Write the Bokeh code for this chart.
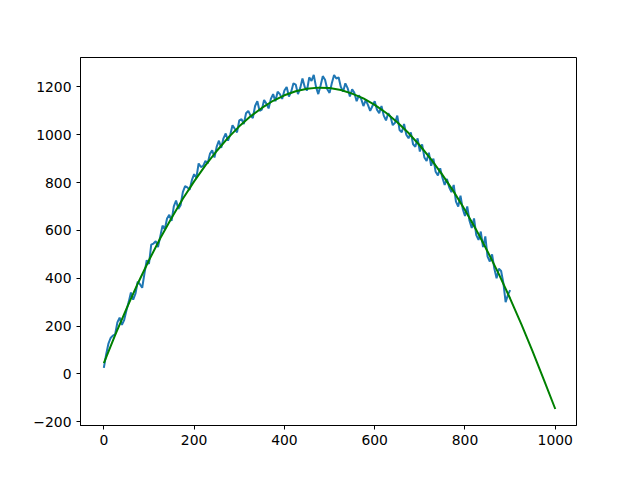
from bokeh.plotting import figure
from bokeh.models import Range1d, FixedTicker, CustomJSTickFormatter
from bokeh.embed import file_html
from bokeh.resources import INLINE

# Noisy measured series (x step 5, 0..900)
noisy_x = list(range(0, 905, 5))
noisy_y = [
    25, 80, 125, 150, 160, 165, 215, 235, 205, 225,
    265, 300, 340, 310, 335, 385, 375, 360, 420, 475,
    460, 540, 545, 555, 530, 575, 620, 605, 650, 665,
    640, 700, 725, 690, 705, 760, 785, 780, 770, 810,
    835, 820, 880, 865, 870, 890, 880, 920, 935, 905,
    950, 975, 945, 985, 1005, 975, 1000, 1040, 1025, 1010,
    1060, 1065, 1045, 1090, 1100, 1080, 1070, 1120, 1140, 1100,
    1105, 1145, 1130, 1110, 1150, 1170, 1140, 1180, 1170, 1150,
    1185, 1200, 1160, 1180, 1215, 1210, 1170, 1195, 1235, 1200,
    1185, 1240, 1225, 1250, 1200, 1170, 1205, 1245, 1230, 1190,
    1175, 1215, 1250, 1235, 1240, 1200, 1180, 1215, 1195, 1160,
    1190, 1175, 1140, 1165, 1150, 1120, 1145, 1125, 1100, 1120,
    1140, 1105, 1090, 1120, 1080, 1060, 1090, 1075, 1040, 1050,
    1080, 1020, 1010, 1045, 1000, 985, 1010, 960, 950, 985,
    930, 960, 905, 890, 925, 870, 900, 845, 830, 860,
    820, 790, 815, 780, 760, 790, 720, 700, 745, 690,
    660, 700, 640, 610, 650, 580, 560, 595, 530, 575,
    490, 470, 500, 440, 400, 440, 430, 380, 300, 330,
    350,
]

# Smooth fitted curve (x step 25, 0..1000)
fit_x = list(range(0, 1025, 25))
fit_y = [
    45, 162, 272, 377, 475, 567, 652, 732, 805, 872,
    932, 987, 1035, 1077, 1112, 1142, 1165, 1182, 1192, 1197,
    1195, 1187, 1172, 1152, 1125, 1092, 1052, 1007, 955, 897,
    832, 762, 685, 602, 512, 417, 315, 207, 93, -26,
    -147,
]

x_ticks = [0, 200, 400, 600, 800, 1000]
y_ticks = [-200, 0, 200, 400, 600, 800, 1000, 1200]

p = figure(
    frame_width=496, frame_height=368,
    min_border_left=80, min_border_right=64,
    min_border_top=57, min_border_bottom=53,
    x_range=Range1d(-51.7, 1047), y_range=Range1d(-216, 1323),
    output_backend="svg", toolbar_location=None,
    background_fill_color="white", border_fill_color="white",
)

p.line(noisy_x, noisy_y, line_color="#1f77b4", line_width=2)
p.line(fit_x, fit_y, line_color="#008000", line_width=2)

p.xgrid.visible = False
p.ygrid.visible = False
p.outline_line_color = "black"
p.outline_line_width = 1

minus_fmt = CustomJSTickFormatter(code="return String(tick).replace('-', '\u2212');")

for ax, ticks in ((p.xaxis[0], x_ticks), (p.yaxis[0], y_ticks)):
    ax.ticker = FixedTicker(ticks=ticks)
    ax.formatter = minus_fmt
    ax.minor_tick_line_color = None
    ax.major_tick_in = 0
    ax.major_tick_out = 4
    ax.major_tick_line_color = "black"
    ax.axis_line_color = "black"
    ax.major_label_text_font = "DejaVu Sans"
    ax.major_label_text_font_size = "13.9px"
    ax.major_label_text_color = "black"
    ax.major_label_standoff = 5

open("out.html", "w").write(file_html(p, INLINE))
